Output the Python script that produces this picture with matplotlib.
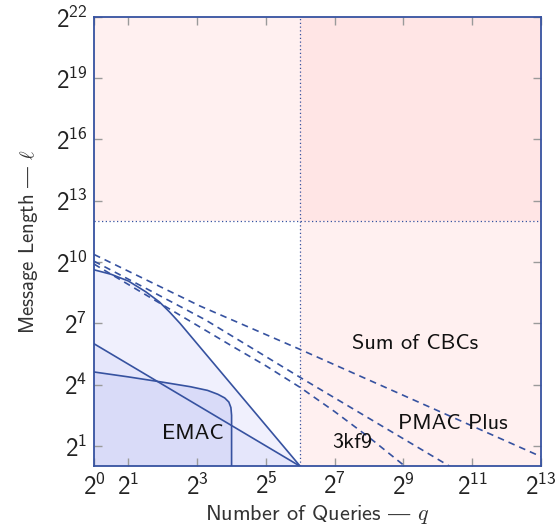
import matplotlib
matplotlib.use("Agg")
import matplotlib.pyplot as plt
import numpy as np

outer_q = [0, 0.5, 1.0, 1.5, 1.9, 2.2, 2.5, 2.8, 6]
outer_l = [9.62, 9.4, 9.07, 8.55, 8.05, 7.55, 7.0, 6.4, 0]

diag_q = [0, 6]
diag_l = [6, 0]

emac_q = [0, 1.0, 2.0, 2.8, 3.3, 3.6, 3.8, 3.92, 3.98, 4.0, 4.0]
emac_l = [4.62, 4.38, 4.12, 3.9, 3.72, 3.53, 3.35, 3.15, 2.88, 2.5, 0]

cbc_q = [0, 3.08, 6, 13]
cbc_l = [10.37, 7.85, 5.72, 0.48]

pmac_q = [0, 1.5, 3.23, 6, 10.35]
pmac_l = [10.04, 8.72, 7.18, 4.35, 0]

kf9_q = [0, 2, 4, 5, 6, 7, 8, 9.05]
kf9_l = [9.9, 7.9, 5.9, 4.92, 3.86, 2.68, 1.42, 0]

x_ticks = [0, 1, 3, 5, 7, 9, 11, 13]
y_ticks = [1, 4, 7, 10, 13, 16, 19, 22]

q_limit = 6   # dotted vertical
l_limit = 12  # dotted horizontal

labels = {
    "EMAC": (2.88, 1.6),
    "Sum of CBCs": (9.33, 6.0),
    "PMAC Plus": (10.45, 2.1),
    "3kf9": (7.5, 1.15),
}

BLUE = "#3652a0"
GREY = "#9a9a9a"

plt.rcParams["font.family"] = ["cmss10", "DejaVu Sans"]
plt.rcParams["mathtext.fontset"] = "cm"
# sans digits for the 2^k tick labels
plt.rcParams["mathtext.rm"] = "cmss10"
plt.rcParams["mathtext.sf"] = "cmss10"
plt.rcParams["axes.unicode_minus"] = False


def p2(values):
    return np.power(2.0, np.asarray(values, dtype=float))


fig = plt.figure(figsize=(5.6, 5.27), dpi=100)
ax = fig.add_axes([0.168, 0.115, 0.798, 0.853])
ax.set_xscale("log", base=2)
ax.set_yscale("log", base=2)
ax.set_xlim(1, 2**13)
ax.set_ylim(1, 2**22)

# forbidden regions
ax.axvspan(2**q_limit, 2**13, color="#fff0f0", lw=0, zorder=0)
ax.axhspan(2**l_limit, 2**22, color="#fff0f0", lw=0, zorder=0)
ax.fill_between([2**q_limit, 2**13], 2**l_limit, 2**22, color="#ffe5e5", lw=0, zorder=0)

# shaded security regions
ax.fill(np.append(p2(outer_q), 1), np.append(p2(outer_l), 1), color="#f0f0fd", lw=0, zorder=1)
ax.fill(np.append(p2(diag_q), 1), np.append(p2(diag_l), 1), color="#e5e6fb", lw=0, zorder=1)
ax.fill(np.append(p2(emac_q), 1), np.append(p2(emac_l), 1), color="#d9dbf8", lw=0, zorder=1)

for qs, ls in [(outer_q, outer_l), (diag_q, diag_l), (emac_q, emac_l)]:
    ax.plot(p2(qs), p2(ls), color=BLUE, lw=1.2, zorder=3)

for qs, ls in [(cbc_q, cbc_l), (pmac_q, pmac_l), (kf9_q, kf9_l)]:
    ax.plot(p2(qs), p2(ls), color=BLUE, lw=1.2, ls=(0, (4, 3)), zorder=3)

ax.plot([2**q_limit, 2**q_limit], [1, 2**22], color=BLUE, lw=0.9, ls=(0, (1, 2)), zorder=2)
ax.plot([1, 2**13], [2**l_limit, 2**l_limit], color=BLUE, lw=0.9, ls=(0, (1, 2)), zorder=2)

for text, (qx, ly) in labels.items():
    ax.text(2**qx, 2**ly, text, ha="center", va="center", fontsize=16, color="#111111", zorder=4)

ax.set_xticks(p2(x_ticks))
ax.set_xticklabels([rf"$2^{{{e}}}$" for e in x_ticks])
ax.set_yticks(p2(y_ticks))
ax.set_yticklabels([rf"$2^{{{e}}}$" for e in y_ticks])
for lab in ax.get_xticklabels() + ax.get_yticklabels():
    lab.set_math_fontfamily("custom")
ax.minorticks_off()
ax.tick_params(which="both", direction="in", length=6, width=1, color=GREY,
               top=True, right=True, labelsize=18, labelcolor="#222222", pad=5)

for spine in ax.spines.values():
    spine.set_color(BLUE)
    spine.set_linewidth(1.3)
    spine.set_zorder(5)

ax.set_xlabel(r"Number of Queries $—$ $q$", fontsize=16, color="#333333", labelpad=2)
ax.set_ylabel(r"Message Length $—$ $\ell$", fontsize=15, color="#333333", labelpad=11)

fig.savefig("out.png", dpi=100)
